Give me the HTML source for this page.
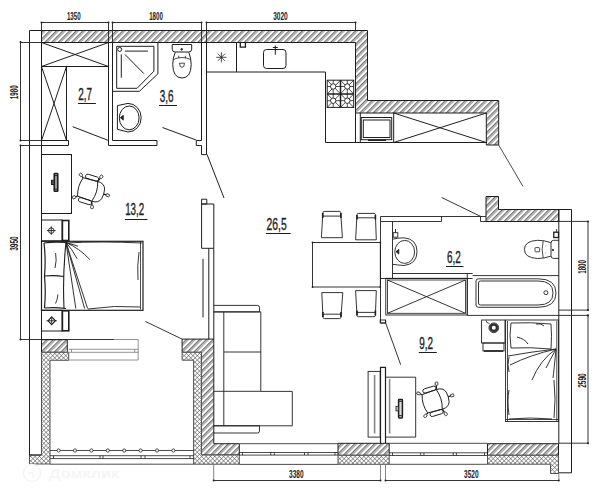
<!DOCTYPE html>
<html><head><meta charset="utf-8">
<style>
html,body{margin:0;padding:0;background:#fff;}
svg{display:block;}
text{font-family:"Liberation Sans",sans-serif;fill:#222;}
</style></head>
<body>
<svg width="600" height="497" viewBox="0 0 600 497">
<defs>
<pattern id="h" patternUnits="userSpaceOnUse" width="4.7" height="4.7" patternTransform="rotate(45)">
<rect width="4.7" height="4.7" fill="#fff"/><line x1="0.4" y1="0" x2="0.4" y2="4.7" stroke="#4a4a4a" stroke-width="0.8"/><line x1="1.9" y1="0" x2="1.9" y2="4.7" stroke="#4a4a4a" stroke-width="0.8"/>
</pattern>
<pattern id="x" patternUnits="userSpaceOnUse" width="3.1" height="3.1" patternTransform="rotate(45)">
<rect width="3.1" height="3.1" fill="#fff"/><line x1="0" y1="0" x2="0" y2="3.1" stroke="#555" stroke-width="1"/><line x1="0" y1="0" x2="3.1" y2="0" stroke="#555" stroke-width="1"/>
</pattern>
<g id="ch" fill="none" stroke="#1e1e1e" stroke-width="0.9">
<path d="M3.5 -10.3L-11.5 -9.6Q-14.8 0 -11.5 9.6L3.5 10.3Q7 0 3.5 -10.3Z"/>
<path d="M3.5 -10.3Q10.5 -10.5 12.3 -5Q13.4 0 12.3 5Q10.5 10.5 3.5 10.3"/>
<rect x="-9.8" y="-14.4" width="13.6" height="4.3" rx="2.1"/>
<rect x="-9.8" y="10.1" width="13.6" height="4.3" rx="2.1"/>
<path d="M12.9 0H15.5M3.6 -10.4L4.8 -14M3.6 10.4L4.8 14M-11.5 -9.6L-13 -10.6M-11.5 9.6L-13 10.6" stroke-width="1.3"/>
<g stroke-width="0.8">
<rect x="15.5" y="-1.3" width="3.2" height="2.6" rx="0.6"/>
<rect x="-1.3" y="-3.2" width="2.6" height="3.2" rx="0.6" transform="translate(5 -14.3) rotate(18)"/>
<rect x="-1.3" y="0" width="2.6" height="3.2" rx="0.6" transform="translate(5 14.3) rotate(-18)"/>
<rect x="-1.3" y="0" width="2.6" height="3.2" rx="0.6" transform="translate(-13.3 10.8) rotate(54)"/>
<rect x="-1.3" y="-3.2" width="2.6" height="3.2" rx="0.6" transform="translate(-13.3 -10.8) rotate(-54)"/>
</g>
</g>
</defs>
<g fill="none" stroke="#1e1e1e" stroke-width="1">
<!-- hatched walls -->
<path fill="url(#h)" d="M41.5 30.5H367.5V100.5H498.7V145H486.3V113H355.5V42.5H41.5Z"/>
<path fill="url(#h)" d="M41.5 339.7H67.3V352.3H41.5Z"/>
<path fill="url(#x)" stroke="#555" d="M41.5 352.3H68.7V360.3H50V464H29.5V455H41.5Z"/>
<path fill="url(#h)" d="M182.1 339.1H213.8V443.7H239.3V455H201.4V352.3H182.1Z"/>
<path fill="url(#x)" stroke="#555" d="M182.1 352.3H201.4V455H239.3V464.2H193.6V360.2H182.1Z"/>
<path fill="url(#h)" d="M338 443.3H389.2V455.3H338Z"/>
<path fill="url(#x)" stroke="#555" d="M338 455.3H389.2V464.3H338Z"/>
<path fill="url(#h)" d="M487.5 443.7H558.5V455.3H487.5Z"/>
<path fill="url(#x)" stroke="#555" d="M487.5 455.3H558.5V473.5H550.5V464.2H487.5Z"/>
<path fill="url(#h)" d="M486 196.5H498.5V209.5H558.8V221.5H486Z"/>
<!-- outer lines -->
<path d="M29.5 30.5V455H41.5M29.5 30.5H41.5"/>
<path d="M41.5 30.5V352"/>
<path d="M558.8 209.5V443.7M571.5 209.5V472.8H558.8M498.5 209.5H571.5"/>

<!-- dimension lines -->
<g stroke-width="0.9">
<path d="M41.5 22.5H108.5M112.5 22.5H201.5M206.5 22.5H355.5M41.5 22.5V30.5M355.5 22.5V30.5"/><path d="M108.5 22.5V42.5M112.5 22.5V42.5M201.5 22.5V42.5M206.5 22.5V42.5"/>
<path d="M20.5 42.5V140.5M20.5 145.5V339.5M20.5 42.5H41.5M20.5 140.5H41.5M20.5 145.5H41.5M20.5 339.5H41.5"/>
<path d="M588 221.4V310.1M588 315.4V443.2M558.9 221.4H588M558.8 443.2H588"/>
<path d="M213.7 480.5H380.5M385.5 480.5H558.8"/>
</g>
<g stroke="#666" stroke-width="0.8">



<path d="M213.7 464V480.5M558.8 473.5V480.5M380.5 464.3V480.5M385.5 464.3V480.5"/>
</g>
<g fill="#222" stroke="none">
<circle cx="41.5" cy="22.5" r="1"/><circle cx="108.5" cy="22.5" r="1"/><circle cx="112.5" cy="22.5" r="1"/><circle cx="201.5" cy="22.5" r="1"/><circle cx="206.5" cy="22.5" r="1"/><circle cx="355.5" cy="22.5" r="1"/>
<circle cx="20.5" cy="42" r="1"/><circle cx="20.5" cy="140.5" r="1"/><circle cx="20.5" cy="145.5" r="1"/><circle cx="20.5" cy="339.5" r="1"/>
<circle cx="588" cy="221.4" r="1"/><circle cx="588" cy="310.1" r="1.1"/><circle cx="588" cy="315.4" r="1.1"/><circle cx="588" cy="443.2" r="1"/>
<circle cx="213.7" cy="480.5" r="1"/><circle cx="380.5" cy="480.5" r="1"/><circle cx="385.5" cy="480.5" r="1"/><circle cx="558.8" cy="480.5" r="1"/>
</g>
<!-- wardrobe room -->
<path d="M41.5 42.5H108.5V66.5H41.5M41.5 42.5L108.5 66.5M108.5 42.5L41.5 66.5"/>
<path d="M66.5 66.5V140.5M41.5 66.5L66.5 140.5M66.5 66.5L41.5 140.5"/>
<path d="M41.5 140.5H68.5V145.5H41.5"/>
<path d="M108.5 42.5V145.5H157V140.5H112.5V42.5"/>
<path d="M72.7 126.7L108 140.3"/>
<!-- bath 3,6 -->
<path d="M112.5 42.5H157.9V73.8L139.4 91.3H112.5M116.7 46.3H153.9V71.2L137 88.3H116.7Z"/>
<circle cx="119.7" cy="49.4" r="2"/>
<path d="M125 51.1H147.9M121.3 54.3V77.7M125 54.5L143.9 73.6"/>
<path d="M172.2 44.5H191.7V49.3Q191.7 52 188.5 52H175.5Q172.2 52 172.2 49.3Z"/>
<circle cx="181.7" cy="49.3" r="0.8" fill="#222"/>
<path d="M175.3 52.2Q172.8 58 172.7 64.5Q173 78 182 78Q191 78 191.2 64.5Q191.1 58 188.8 52.2"/>
<path d="M173.3 59.5Q182 55.5 190.7 59.5M178.7 55.8V58M185.3 55.8V58" stroke-width="0.8"/>
<path d="M179.5 63.2H184.5L183.8 66.5Q182 68 180.2 66.5Z" stroke-width="0.8"/>
<path d="M117.4 105.6L128 103.4A13.2 14.3 0 0 1 128 132L117.4 129.3Z"/>
<ellipse cx="129.2" cy="117.9" rx="9.9" ry="11.9"/>
<path d="M120.3 117.7L123.3 115.3V120.1Z" fill="#222" stroke-width="0.8"/>
<path d="M162.5 127.5L196.3 140.1"/>
<path d="M201.5 42.5V140.5H196.3V145.5H201.5V154.6H206.5V42.5"/>
<!-- kitchen -->
<path d="M206.5 72H325.5V142.5H486.3M236.5 42.5V72"/>
<path d="M240.3 42.5V47.2H245.4V42.5" stroke-width="1.3"/>
<g stroke-width="0.8"><path d="M221.4 52.2V62.4M216.3 57.3H226.5M217.8 53.7L225 60.9M217.8 60.9L225 53.7"/></g>
<rect x="263.5" y="49.5" width="22.5" height="19" rx="3"/>
<path d="M275.3 45.5V54.8M272.8 47.5H277.8"/>
<rect x="327.2" y="80.2" width="26.5" height="27.2"/>
<path d="M340.5 80.2V107.4M327.2 94H353.7" stroke-width="1.5"/>
<g stroke-width="0.8">
<path d="M333.2 80.2V107.4M347.3 80.2V107.4M327.2 86.5H353.7M327.2 100.7H353.7"/>
<path d="M327.2 80.2L353.7 107.4M353.7 80.2L327.2 107.4M327.2 94L340.5 80.2L353.7 94L340.5 107.4Z"/>
</g>
<g fill="#fff" stroke-width="0.9">
<circle cx="333.2" cy="86.5" r="2.7"/><circle cx="347.3" cy="86.5" r="2.7"/>
<circle cx="333.2" cy="100.7" r="2.7"/><circle cx="347.3" cy="100.7" r="2.7"/>
</g>
<path d="M355.5 113V142.5M360.3 113V142.5"/>
<rect x="361.3" y="117.5" width="30.4" height="22.2"/>
<rect x="363.3" y="120" width="26.7" height="17.5"/>
<path d="M368 140.2H386" stroke-width="1.5"/>
<path d="M393.7 113V142.5M393.7 113L486.3 142.5M486.3 113L393.7 142.5"/>
<path d="M498.7 145L522.9 186.3" stroke-width="0.8"/>
<!-- door kitchen/living & partition -->
<path d="M207 154.4L224 198"/>
<path d="M201.6 199.2H206.8V204H201.6ZM201.6 204H213.8V248.3H201.6Z"/>
<path d="M208.8 248.3V339.1M213.8 248.3V339.1M203 258.9V317.4"/>

<!-- bedroom 13,2 -->
<rect x="41.5" y="154.5" width="30" height="59"/>
<rect x="54.2" y="173.5" width="3.6" height="17.8" rx="0.6" stroke-width="1.5" fill="#999"/>
<path d="M54.2 175.6H57.8M54.2 189.2H57.8" stroke-width="1"/>
<rect x="51.5" y="180.3" width="2.7" height="4.2" stroke-width="1" fill="#555"/>
<rect x="41.5" y="220" width="20.7" height="20.8"/>
<rect x="62.4" y="220.5" width="6.4" height="20" stroke-width="1.6"/>
<rect x="41.5" y="310.3" width="20.7" height="20.7"/>
<rect x="62.4" y="310.8" width="6.4" height="20" stroke-width="1.6"/>
<g stroke-width="0.9"><circle cx="51.3" cy="230.6" r="2.8"/><path d="M47 230.6H55.6M51.3 226.3V234.9"/>
<path d="M48 320.8L51.7 316.9L55.4 320.8L51.7 324.7Z" stroke-width="1.1"/><path d="M46.5 320.8H56.9M51.7 318V323.6"/></g>
<rect x="41.5" y="241.3" width="101.5" height="69" stroke-width="1.2"/>
<path d="M140.5 241.5V309.5" stroke-width="0.8"/>
<g stroke-width="0.9">
<g stroke-width="0.9">
<path d="M44 243Q54 241.5 66 242.5M44 243Q46 260 44.5 276M44.5 276Q55 275 64 276.5M44.5 276Q46 292 44.5 308M44.5 308Q55 307 66 308.5" stroke-width="1.2"/>
<path d="M66 242.5Q62.5 275 64 308.5" stroke-width="1.1"/>
<path d="M66 242.5L75.8 308.5M66 242.5L84.6 308.5M66 242.5L87.6 308.5M66 242.5Q72 249 77.2 258.8M66 242.5Q79 248 89.9 259.6M66 242.5L78 246.2"/>
<path d="M66 243Q100 241 142 243M88 309Q115 305 140 307M139 252Q137 265 138 280"/>
<path d="M55.6 253Q57 260 55 268M57.9 294.5Q57.5 300 55.5 303.5"/>
</g>
<path d="M41.5 339.5H114" stroke-width="0.9"/><path d="M114 339.5H138.2V360H68.7M68.7 349.3H138.2M67.3 352.3H138.2M71.5 349.3V352.3M134.7 349.3V352.3" stroke-width="0.8" stroke="#777"/>
<path d="M145.5 321.5L182.1 339.1" stroke-width="0.9"/>
<!-- balcony -->
<g stroke-width="0.8">
<path d="M50 450.5H193.6M50 455.7H193.6M50 458.6H193.6M50 464.2H193.6"/>
<path d="M53.5 455.7V458.6M100 455.7V458.6M103 455.7V458.6M141 455.7V458.6M145 455.7V458.6M190 455.7V458.6"/>
<circle cx="58.6" cy="450.5" r="1.6" fill="#fff"/><circle cx="75" cy="450.5" r="1.6" fill="#fff"/><circle cx="91.4" cy="450.5" r="1.6" fill="#fff"/><circle cx="107.8" cy="450.5" r="1.6" fill="#fff"/><circle cx="124.2" cy="450.5" r="1.6" fill="#fff"/><circle cx="140.6" cy="450.5" r="1.6" fill="#fff"/><circle cx="157" cy="450.5" r="1.6" fill="#fff"/><circle cx="173.4" cy="450.5" r="1.6" fill="#fff"/>
</g>
<!-- windows -->
<g stroke-width="0.8">
<path d="M239.3 443.7H338M239.3 452.5H338M239.3 455.1H338M239.3 464.4H338"/>
<path d="M242.5 452.5V455.1M270.8 452.5V455.1M274.3 452.5V455.1M304.5 452.5V455.1M308 452.5V455.1M335 452.5V455.1"/>
<path d="M389.2 443.3H487.5M389.2 452.8H487.5M389.2 455.5H487.5M389.2 464.3H487.5"/>
<path d="M392.5 452.8V455.5M420.7 452.8V455.5M423.9 452.8V455.5M453.2 452.8V455.5M456.4 452.8V455.5M484.5 452.8V455.5"/>
</g>
<!-- sofa -->
<path d="M213.8 305.4H257.5Q259.5 305.4 259.5 307.5V311.9H213.8"/>
<path d="M213.8 311.9H260.8V391.4H292.3V425.8H213.8M223.8 311.9V425.8M223.8 352H260.8M213.8 391.3H260.8"/>
<path d="M213.8 425.8H259.5V431Q259.5 433 257.5 433H213.8"/>
<!-- bath 6,2 -->
<path d="M380.5 216.5H486M380.5 221.5H441.5V216.5M480.5 216.5V221.5H486"/>
<path d="M441.7 197.5L481 216.6" stroke-width="0.9"/>
<path d="M380.5 216.5V323H385.5V320M392.5 221.5V278.5M392.5 273.5H472.6M380.5 278.5H472.6"/>
<rect x="393.2" y="232.7" width="4.6" height="4.5"/>
<path d="M395.5 229V232.7"/>
<path d="M392.5 239.2Q397 238 404 237.8Q417 239 417 251.6Q417 264 404 265.5Q397 265 392.5 264.3"/>
<ellipse cx="404.7" cy="251.9" rx="9.9" ry="11.5"/>
<path d="M396 251.7L398.8 249.3V254.1Z" fill="#222" stroke-width="0.8"/>
<path d="M559 240.3H553.5Q551 240.3 551 243V255.7Q551 258.4 553.5 258.4H559"/>
<circle cx="552.9" cy="250" r="0.7" fill="#222"/>
<path d="M550.8 242.6Q544 240.2 537.5 240.3Q524.4 241 524.4 249.4Q524.4 257.8 537.5 258.5Q544 258.6 550.8 256.2"/>
<path d="M543.2 241Q541 249.4 543.2 257.8" stroke-width="0.8"/>
<g fill="#444" stroke="none"><circle cx="545.5" cy="246" r="0.45"/><circle cx="545.5" cy="253" r="0.45"/></g>
<path d="M535.6 247.6H539Q539.6 247.6 539.6 248.4V251Q539.6 251.8 539 251.8H535.6Q535 251.8 535 251V248.4Q535 247.6 535.6 247.6Z" stroke-width="0.8"/>
<rect x="553.8" y="232.2" width="4.7" height="5.3" stroke-width="1.3"/>
<path d="M556.6 229V232.2" stroke-width="0.8"/>
<path d="M476 281Q476 278.8 478.5 278.8H538Q556 278.8 556 293Q556 307.3 538 307.3H478.5Q476 307.3 476 305Z"/>
<path d="M478.5 283Q478.5 281 480.5 281H538Q553 281 553 293Q553 305 538 305H480.5Q478.5 305 478.5 303Z"/>
<circle cx="545.9" cy="292.7" r="2"/>
<rect x="385.8" y="278.3" width="81.4" height="36.7"/>
<rect x="387.5" y="280" width="78" height="33.3" stroke-width="0.8"/>
<path d="M387.5 280L465.5 313.3M465.5 280L387.5 313.3" stroke-width="0.9"/>
<path d="M467.3 273.3V315.4H588M472.6 275.6H558.8M558.8 310.1H588"/>
<!-- dining -->
<rect x="312.5" y="242.5" width="67.8" height="44.5"/>
<g fill="#222" stroke="none"><circle cx="312.5" cy="242.5" r="0.9"/><circle cx="380.3" cy="242.5" r="0.9"/><circle cx="312.5" cy="287" r="0.9"/><circle cx="380.3" cy="287" r="0.9"/></g>
<path d="M322.7 213V218M340.9 213V218M357 215V219.5M375.4 215V219.5M322.9 312V317M341 312V317M357 310.5V315.5M375.4 310.5V315.5" stroke-width="1.6"/>
<path d="M321.4 237.7L322.9 212.5Q323 211.4 324.2 211.4H339.4Q340.6 211.4 340.7 212.5L342.4 237.7ZM322.7 216.1H340.9"/>
<path d="M355.6 239.8L357 214.5Q357.1 213.4 358.3 213.4H374.1Q375.3 213.4 375.4 214.5L376.3 239.8ZM356.8 217.8H375.6"/>
<path d="M321.8 292.6L323 317.4Q323.1 318.6 324.3 318.6H339.6Q340.8 318.6 340.9 317.4L342.8 292.6ZM322.8 314.2H341.2"/>
<path d="M355.6 290.6L357 315.5Q357.1 316.7 358.3 316.7H374.1Q375.3 316.7 375.4 315.5L376.3 290.6ZM356.8 312.4H375.6"/>
<!-- bedroom 9,2 -->
<rect x="380.2" y="320" width="5.5" height="3"/>
<path d="M385.7 323L400.7 364.7" stroke-width="0.9"/>
<path d="M380.5 443.3V367.3H385.5V443.3" stroke-width="1.2"/>
<rect x="368.1" y="371.4" width="12.1" height="65.7"/>
<path d="M374.6 375V433.5" stroke-width="1.6" stroke="#888"/>
<path d="M385.2 377.2H415.7V437.1H385.2"/>
<path d="M389.6 379V433.5" stroke-width="1.6" stroke="#888"/>
<rect x="398.6" y="399.5" width="3.8" height="18.4" rx="0.6" stroke-width="1.5" fill="#ddd"/>
<path d="M398.5 401.3H401.9M398.5 415.7H401.9" stroke-width="1"/>
<rect x="396" y="406.3" width="2.6" height="4.6" stroke-width="0.8" fill="#bbb"/>
<rect x="481.6" y="320" width="23.4" height="23"/>
<rect x="483" y="343" width="21" height="8"/>
<path d="M484 351H503" stroke-width="1.6"/>
<circle cx="493.8" cy="327.8" r="3.3" stroke-width="2.6" stroke="#333"/>
<circle cx="493.8" cy="327.8" r="4.9" stroke-width="0.8"/>
<path d="M486 320.5Q486 323 489.5 323.5" stroke-width="0.8"/>
<rect x="505.6" y="320" width="53" height="101.5"/>
<path d="M507.5 321V421M556.8 321V421M506 419.5H558" stroke-width="0.8"/>
<g stroke-width="0.9">
<path d="M511 323Q530 322 551 324M511 323Q509 335 511 348M511 348Q530 347 551 349M551 324Q552 336 551 349"/>
<path d="M517 337Q525 339 528 344M536 324Q541 323 544 326"/>
<path d="M556 349Q530 352 508 356M556 349Q530 355 510 365M556 349Q540 360 532 380M556 349Q550 360 546 368M556 349Q554 370 553 378"/>
<path d="M509 357Q507 365 509 372M509 390Q507 400 509 415M509 419Q530 417 552 419M554 380Q556 400 554 418"/>
</g>

<use href="#ch" transform="translate(91.4 190.3) rotate(17)"/>
<use href="#ch" transform="translate(435.9 400.4) rotate(-17)"/>
<g fill="none" stroke="#f5f5f5" stroke-width="1.6"><circle cx="32" cy="473" r="8.5"/><path d="M28 473H33V478"/></g>
<text x="49" y="478.2" font-size="12.5" font-weight="bold" textLength="70" lengthAdjust="spacingAndGlyphs" style="fill:#f5f5f5" stroke="none">Домклик</text>
<!-- labels -->
<g stroke="none">
<text x="73.8" y="20.2" font-size="10" font-weight="bold" text-anchor="middle" textLength="13.7" lengthAdjust="spacingAndGlyphs">1350</text>
<text x="156" y="20.2" font-size="10" font-weight="bold" text-anchor="middle" textLength="13.7" lengthAdjust="spacingAndGlyphs">1800</text>
<text x="280.5" y="20.2" font-size="10" font-weight="bold" text-anchor="middle" textLength="14.5" lengthAdjust="spacingAndGlyphs">3020</text>
<text x="296.3" y="478.2" font-size="10" font-weight="bold" text-anchor="middle" textLength="14.5" lengthAdjust="spacingAndGlyphs">3380</text>
<text x="471.3" y="478.2" font-size="10" font-weight="bold" text-anchor="middle" textLength="14.5" lengthAdjust="spacingAndGlyphs">3520</text>
<text transform="translate(18 92.3) rotate(-90)" font-size="10" font-weight="bold" text-anchor="middle" textLength="13.7" lengthAdjust="spacingAndGlyphs">1980</text>
<text transform="translate(18 243.5) rotate(-90)" font-size="10" font-weight="bold" text-anchor="middle" textLength="14.5" lengthAdjust="spacingAndGlyphs">3950</text>
<text transform="translate(585.9 266.9) rotate(-90)" font-size="10" font-weight="bold" text-anchor="middle" textLength="13.7" lengthAdjust="spacingAndGlyphs">1800</text>
<text transform="translate(585.9 380.5) rotate(-90)" font-size="10" font-weight="bold" text-anchor="middle" textLength="14.5" lengthAdjust="spacingAndGlyphs">2590</text>
<g font-size="16" text-anchor="middle" stroke="#222" stroke-width="0.35">
<text x="85.2" y="99.7" textLength="13.8" lengthAdjust="spacingAndGlyphs">2,7</text>
<text x="166.7" y="102" textLength="13.8" lengthAdjust="spacingAndGlyphs">3,6</text>
<text x="134.7" y="215" textLength="19" lengthAdjust="spacingAndGlyphs">13,2</text>
<text x="276.6" y="229.5" textLength="20" lengthAdjust="spacingAndGlyphs">26,5</text>
<text x="453.9" y="263" textLength="13.8" lengthAdjust="spacingAndGlyphs">6,2</text>
<text x="426.2" y="348.7" textLength="13.8" lengthAdjust="spacingAndGlyphs">9,2</text>
</g>
</g>
<g stroke-width="1.2">
<path d="M77.9 103.5H95.9M159 105.5H177M124.9 219.5H147.5M265.9 233.5H290.7M446 266.5H463.5M418.8 352.5H436.8"/>
</g>
</g>
</svg>
</body></html>
